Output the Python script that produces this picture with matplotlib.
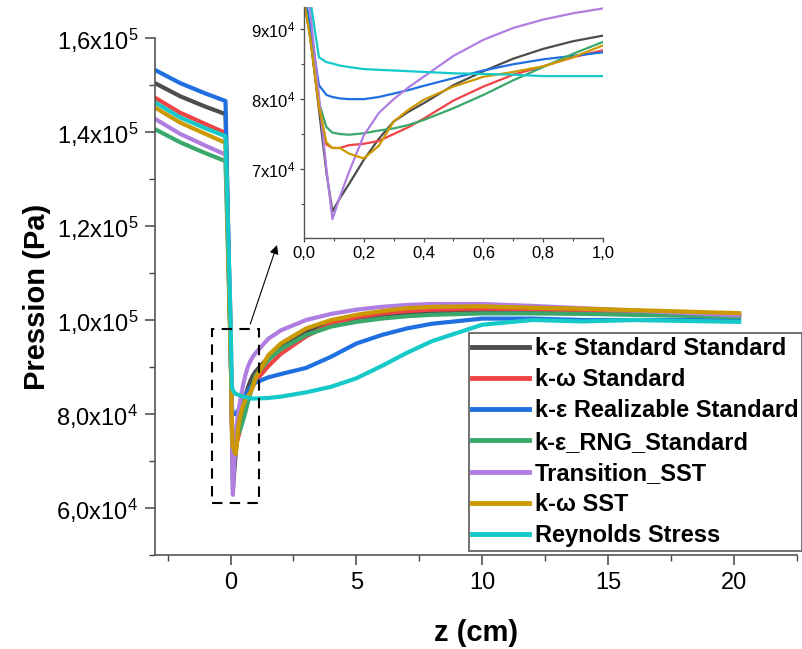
import numpy as np
import matplotlib
matplotlib.use('Agg')
import matplotlib.pyplot as plt
from matplotlib.patches import Rectangle
from matplotlib.ticker import MultipleLocator, FuncFormatter

plt.rcParams['font.family'] = ['Liberation Sans', 'DejaVu Sans']
plt.rcParams['mathtext.fontset'] = 'custom'
plt.rcParams['mathtext.rm'] = 'Liberation Sans'
plt.rcParams['mathtext.it'] = 'Liberation Sans:italic'
plt.rcParams['mathtext.bf'] = 'Liberation Sans:bold'

# Axial position (cm)
z = [-3.0, -2.0, -1.0, -0.2,
     0.0, 0.02, 0.05, 0.075, 0.095, 0.12, 0.15, 0.2, 0.25, 0.3, 0.35, 0.4,
     0.5, 0.6, 0.7, 0.8, 0.9, 1.0,
     1.5, 2.0, 3.0, 4.0, 5.0, 6.0, 7.0, 8.0, 10.0, 12.0, 14.0, 16.0, 18.0, 20.2]

# Pressure (x1e4 Pa) for each turbulence model
p_ke_standard = [15.04, 14.76, 14.54, 14.38,
                 9.5, 8.95, 7.85, 6.95, 6.39, 6.58, 6.78, 7.13, 7.43, 7.68, 7.82, 7.94,
                 8.2, 8.4, 8.58, 8.72, 8.83, 8.91,
                 9.2, 9.42, 9.75, 9.93, 10.04, 10.11, 10.15, 10.18, 10.21, 10.2, 10.18, 10.16, 10.14, 10.11]
p_kw_standard = [14.73, 14.41, 14.17, 13.98,
                 9.45, 8.9, 7.9, 7.35, 7.3, 7.3, 7.34, 7.36, 7.4, 7.5, 7.6, 7.72,
                 7.98, 8.18, 8.35, 8.47, 8.6, 8.7,
                 9.02, 9.28, 9.65, 9.92, 10.06, 10.14, 10.19, 10.22, 10.24, 10.23, 10.2, 10.17, 10.14, 10.11]
p_ke_realizable = [15.32, 15.04, 14.82, 14.66,
                   9.6, 9.05, 8.2, 8.06, 8.03, 8.01, 8.0, 8.0, 8.03, 8.08, 8.13, 8.19,
                   8.3, 8.41, 8.5, 8.57, 8.62, 8.67,
                   8.78, 8.85, 8.98, 9.22, 9.5, 9.68, 9.82, 9.92, 10.03, 10.03, 10.0, 10.0, 10.0, 9.99]
p_ke_rng = [14.06, 13.78, 13.55, 13.38,
            9.45, 8.9, 7.95, 7.6, 7.52, 7.5, 7.49, 7.51, 7.55, 7.58, 7.63, 7.7,
            7.87, 8.06, 8.27, 8.46, 8.65, 8.82,
            9.15, 9.38, 9.68, 9.86, 9.96, 10.03, 10.08, 10.11, 10.14, 10.14, 10.13, 10.11, 10.09, 10.06]
p_transition_sst = [14.28, 13.96, 13.71, 13.52,
                    10.1, 9.3, 8.05, 7.0, 6.28, 6.6, 6.95, 7.48, 7.8, 8.0, 8.17, 8.32,
                    8.62, 8.85, 9.02, 9.14, 9.23, 9.3,
                    9.6, 9.78, 10.0, 10.13, 10.22, 10.28, 10.32, 10.34, 10.34, 10.3, 10.25, 10.2, 10.15, 10.1]
p_kw_sst = [14.52, 14.2, 13.96, 13.77,
            9.4, 8.9, 7.9, 7.38, 7.3, 7.3, 7.22, 7.15, 7.33, 7.68, 7.85, 7.99,
            8.18, 8.32, 8.39, 8.47, 8.6, 8.77,
            9.25, 9.5, 9.82, 10.0, 10.11, 10.19, 10.25, 10.28, 10.29, 10.26, 10.24, 10.21, 10.18, 10.145]
p_reynolds = [14.63, 14.31, 14.08, 13.91,
              10.0, 9.45, 8.6, 8.53, 8.51, 8.48, 8.46, 8.43, 8.42, 8.41, 8.4, 8.39,
              8.37, 8.36, 8.35, 8.33, 8.33, 8.33,
              8.34, 8.37, 8.46, 8.58, 8.76, 9.02, 9.3, 9.55, 9.9, 10.0, 9.97, 10.0, 9.98, 9.96]

labels = ['k-ε Standard Standard', 'k-ω Standard', 'k-ε Realizable Standard',
          'k-ε_RNG_Standard', 'Transition_SST', 'k-ω SST', 'Reynolds Stress']
colors = ['#4d4d4d', '#f04343', '#1f6fe0', '#3aa86b', '#b07ee0', '#cc9900', '#16c9c9']
series = [p_ke_standard, p_kw_standard, p_ke_realizable, p_ke_rng,
          p_transition_sst, p_kw_sst, p_reynolds]


def main_fmt(v, pos):
    e = int(np.floor(np.log10(v) + 1e-9))
    return ('%.1f' % (v / 10**e)).replace('.', ',') + 'x10$^{%d}$' % e


def inset_fmt(v, pos):
    e = int(np.floor(np.log10(v) + 1e-9))
    return '%d' % round(v / 10**e) + 'x10$^{%d}$' % e


fig = plt.figure(figsize=(8.03, 6.49), dpi=100)
ax = fig.add_axes([155 / 803, 94 / 649, 642 / 803, 517 / 649])

handles = []
for p, c, lab in zip(series, colors, labels):
    h, = ax.plot(z, np.array(p) * 1e4, color=c, lw=3, label=lab)
    handles.append(h)

ax.set_xlim(-3, 22.5)
ax.set_ylim(5e4, 1.6e5)
ax.xaxis.set_major_locator(MultipleLocator(5))
ax.xaxis.set_minor_locator(MultipleLocator(2.5))
ax.yaxis.set_major_locator(MultipleLocator(2e4))
ax.yaxis.set_minor_locator(MultipleLocator(1e4))
ax.yaxis.set_major_formatter(FuncFormatter(main_fmt))
for s in ['top', 'right']:
    ax.spines[s].set_visible(False)
for s in ['left', 'bottom']:
    ax.spines[s].set_color('#555555')
    ax.spines[s].set_linewidth(1.2)
ax.tick_params(which='major', direction='out', length=7, width=1.1, labelsize=17,
               color='#444444', pad=5)
ax.tick_params(which='minor', direction='out', length=4, width=1.0, color='#444444')
ax.set_xlabel('z (cm)', fontsize=21, fontweight='bold', labelpad=18)
ax.set_ylabel('Pression (Pa)', fontsize=21, fontweight='bold', labelpad=4)

# zoom box and arrow
ax.add_patch(Rectangle((-0.75, 6.1e4), 1.87, 3.7e4, fill=False, ls=(0, (5, 3.5)),
                       lw=1.5, color='black', zorder=6))
ax.annotate('', xy=(1.88, 1.165e5), xytext=(0.75, 9.86e4),
            arrowprops=dict(arrowstyle='-|>', color='black', lw=0.8, mutation_scale=13))

# inset
axi = fig.add_axes([304 / 803, 411 / 649, 299 / 803, 231 / 649])
for p, c in zip(series, colors):
    axi.plot(z, np.array(p) * 1e4, color=c, lw=1.6)
axi.set_xlim(0, 1.0)
axi.set_ylim(6.01e4, 9.32e4)
axi.set_yticks([7e4, 8e4, 9e4])
axi.yaxis.set_minor_locator(MultipleLocator(1e4 / 2))
axi.xaxis.set_major_locator(MultipleLocator(0.2))
axi.xaxis.set_minor_locator(MultipleLocator(0.1))
axi.yaxis.set_major_formatter(FuncFormatter(inset_fmt))
axi.xaxis.set_major_formatter(FuncFormatter(lambda v, pos: ('%.1f' % v).replace('.', ',')))
for s in ['top', 'right']:
    axi.spines[s].set_visible(False)
for s in ['left', 'bottom']:
    axi.spines[s].set_color('#555555')
    axi.spines[s].set_linewidth(1.0)
axi.tick_params(which='major', direction='out', length=3, width=0.9, labelsize=12,
                color='#444444', pad=3)
axi.tick_params(which='minor', direction='out', length=2, width=0.8, color='#444444')

leg = fig.legend(handles=handles, loc='lower right', bbox_to_anchor=(802 / 803, 98 / 649),
                 prop={'weight': 'bold', 'size': 17}, frameon=True, fancybox=False,
                 edgecolor='#666666', framealpha=1, handlelength=2.4, handletextpad=0.25,
                 labelspacing=0.35, borderpad=0.15, borderaxespad=0)
leg.get_frame().set_linewidth(1.3)
for line in leg.get_lines():
    line.set_linewidth(3.5)

fig.savefig('out.png', dpi=100)
